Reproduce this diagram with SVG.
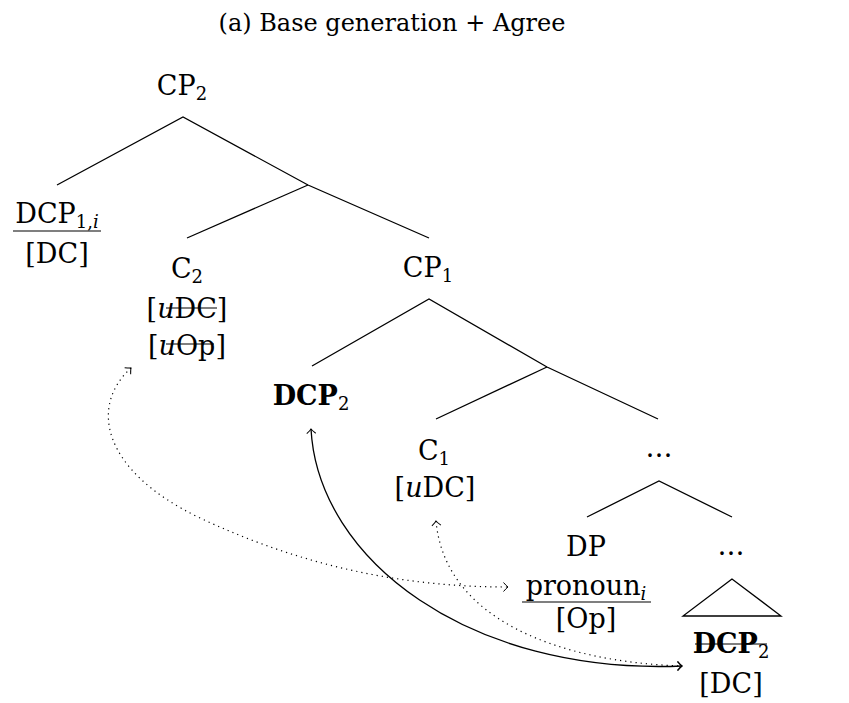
<svg xmlns="http://www.w3.org/2000/svg" width="849" height="703" viewBox="0 0 849 703">
  <style>
    .t { font-family: "DejaVu Serif", "Liberation Serif", serif; font-size: 27px; fill: #000; text-anchor: middle; }
    .title { font-family: "DejaVu Serif", "Liberation Serif", serif; font-size: 24px; fill: #000; text-anchor: middle; }
    .sub { font-size: 18px; }
    .it { font-style: italic; }
    .b { font-weight: bold; }
    .edge { fill: none; stroke: #000; stroke-width: 1.3; }
    .rule { fill: none; stroke: #000; stroke-width: 1.2; }
    .move { fill: none; stroke: #000; stroke-width: 1.3; marker-start: url(#tip); marker-end: url(#tip); }
    .agree { fill: none; stroke: #000; stroke-width: 1.2; stroke-dasharray: 1.2 4; marker-start: url(#tip); marker-end: url(#tip); }
  </style>
  <defs>
    <marker id="tip" viewBox="-6 -6 8 12" refX="0" refY="0" markerWidth="8" markerHeight="12" markerUnits="userSpaceOnUse" orient="auto-start-reverse">
      <path d="M-4.5,-4.5 Q-1.5,-1 0,0 Q-1.5,1 -4.5,4.5" fill="none" stroke="#000" stroke-width="1"/>
    </marker>
  </defs>

  <rect width="849" height="703" fill="#fff"/>

  <text class="title" x="392" y="31">(a) Base generation + Agree</text>

  <!-- tree branches -->
  <g id="branches">
    <polyline class="edge" points="57,185 183,117 308,185 429,238"/>
    <line class="edge" x1="308" y1="185" x2="187" y2="238"/>
    <polyline class="edge" points="312,366 429,299 547,367 658,419"/>
    <line class="edge" x1="547" y1="367" x2="436" y2="419"/>
    <polyline class="edge" points="587,517 659,481 732,517"/>
    <polygon class="edge" points="732,579 683,616 781,616"/>
  </g>

  <!-- nodes -->
  <g id="cp2">
    <text class="t" x="182" y="95">CP<tspan class="sub" dy="5">2</tspan></text>
  </g>
  <g id="dcp1">
    <text class="t" x="57" y="223">DCP<tspan class="sub" dy="5">1,<tspan class="it">i</tspan></tspan></text>
    <line class="rule" x1="13" y1="231" x2="101" y2="231"/>
    <text class="t" x="57" y="263">[DC]</text>
  </g>
  <g id="c2">
    <text class="t" x="187" y="278">C<tspan class="sub" dy="5">2</tspan></text>
    <text class="t" x="187" y="318">[<tspan class="it">u</tspan>DC]</text>
    <line class="rule" x1="166" y1="308" x2="217" y2="308"/>
    <text class="t" x="187" y="355">[<tspan class="it">u</tspan>Op]</text>
    <line class="rule" x1="166" y1="344" x2="214" y2="344"/>
  </g>
  <g id="cp1">
    <text class="t" x="428" y="277">CP<tspan class="sub" dy="5">1</tspan></text>
  </g>
  <g id="dcp2">
    <text class="t" x="311" y="405"><tspan class="b">DCP</tspan><tspan class="sub" dy="5">2</tspan></text>
  </g>
  <g id="c1">
    <text class="t" x="434" y="460">C<tspan class="sub" dy="5">1</tspan></text>
    <text class="t" x="435" y="497">[<tspan class="it">u</tspan>DC]</text>
  </g>
  <g id="dots1">
    <text class="t" x="659" y="457">…</text>
  </g>
  <g id="dp">
    <text class="t" x="586" y="556">DP</text>
    <text class="t" x="586" y="595">pronoun<tspan class="sub it" dy="5">i</tspan></text>
    <line class="rule" x1="522" y1="602" x2="651" y2="602"/>
    <text class="t" x="586" y="628">[Op]</text>
  </g>
  <g id="dots2">
    <text class="t" x="731" y="555">…</text>
  </g>
  <g id="dcp2-copy">
    <text class="t" x="731" y="653"><tspan class="b">DCP</tspan><tspan class="sub" dy="5">2</tspan></text>
    <line class="rule" x1="695" y1="644" x2="767" y2="644"/>
    <text class="t" x="731" y="693">[DC]</text>
  </g>

  <!-- movement and agreement arrows -->
  <g id="connectors">
    <path class="move" d="M311,429 C318,560 470,675 682,666"/>
    <path class="agree" d="M436,521 C445,620 560,662 682,666"/>
    <path class="agree" d="M131,368 C90,405 100,470 200,518 C300,565 400,587 508,587"/>
  </g>
</svg>
